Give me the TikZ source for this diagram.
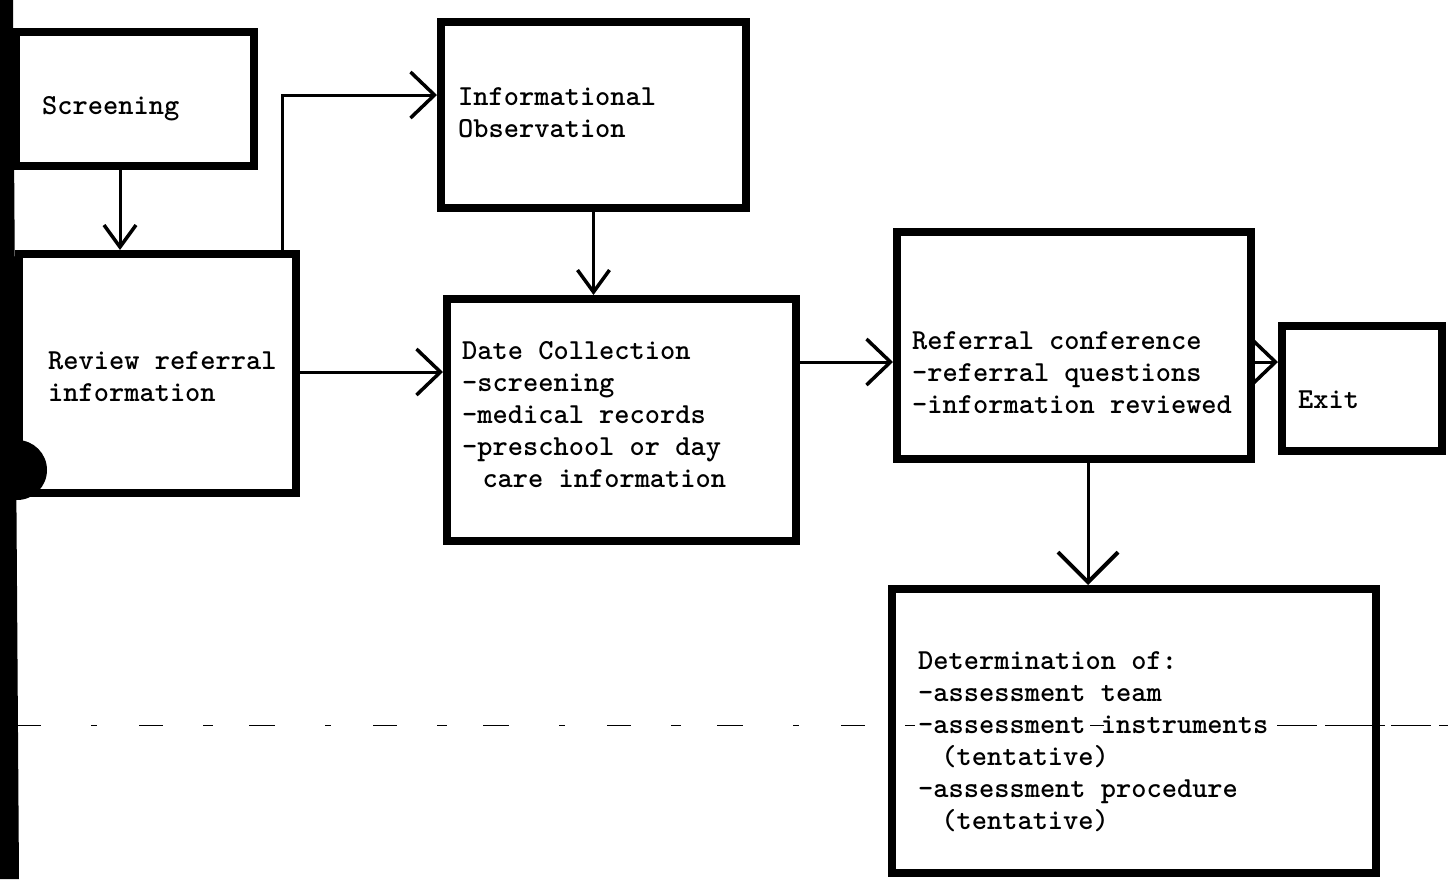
\documentclass[tikz,border=0pt]{standalone}
\usepackage{fontspec}
\usetikzlibrary{arrows.meta}
\begin{document}
\begin{tikzpicture}[x=1pt,y=-1pt,
  box/.style={draw, line width=8pt, rectangle, inner sep=0pt},
  lbl/.style={anchor=north west, inner sep=0pt, align=left,
              font=\ttfamily\bfseries\fontsize{29}{32}\selectfont},
  conn/.style={line width=3pt,
               -{Straight Barb[length=24pt,width=46pt,line width=3.5pt]}},
  conndown/.style={line width=3pt,
               -{Straight Barb[length=22pt,width=32pt,line width=3.5pt]}},
  connbig/.style={line width=3pt,
               -{Straight Barb[length=30pt,width=60pt,line width=4pt]}},
  rule/.style={line width=1pt, dash pattern=on 26pt off 50pt on 6pt off 42pt on 24pt off 40pt on 10pt off 36pt}
]
\useasboundingbox (0,0) rectangle (1448,879);

% left margin bar and punch hole
\fill (0,0) -- (13,0) -- (19,879) -- (0,879) -- cycle;
\fill (17,470) circle (30pt);

% flow boxes
\node[box, minimum width=238pt, minimum height=134pt] (screen)  at (135,99)    {};
\node[box, minimum width=277pt, minimum height=239pt] (review)  at (157.5,373.5) {};
\node[box, minimum width=305pt, minimum height=186pt] (infoobs) at (593.5,115) {};
\node[box, minimum width=349pt, minimum height=242pt] (datacol) at (621.5,420) {};
\node[box, minimum width=354pt, minimum height=227pt] (refconf) at (1074,345.5) {};
\node[box, minimum width=160pt, minimum height=125pt] (exit)    at (1362,388.5) {};
\node[box, minimum width=484pt, minimum height=284pt] (determ)  at (1134,731) {};

% box texts
\node[lbl] (tscreen)  at (42,96)   {Screening};
\node[lbl] (treview)  at (48,351)  {Review referral\\information};
\node[lbl] (tinfoobs) at (458,87)  {Informational\\Observation};
\node[lbl] (tdatacol) at (462,341) {Date Collection\\-screening\\-medical records\\-preschool or day\\\hspace*{0.7em}care information};
\node[lbl] (trefconf) at (912,331) {Referral conference\\-referral questions\\-information reviewed};
\node[lbl] (texit)    at (1298,391) {Exit};
\node[lbl] (tdeterm)  at (918,651) {Determination of:\\-assessment team\\-assessment instruments\\\hspace*{0.8em}(tentative)\\-assessment procedure\\\hspace*{0.8em}(tentative)};

% connectors
\draw[conndown] ([xshift=-15pt]screen.south) -- ([xshift=-15pt]screen.south |- review.north);
\draw[conn] ([xshift=-18pt]review.north east) |- ([yshift=20pt]infoobs.west);
\draw[conn] ([yshift=1.5pt]review.east) -- ([yshift=1.5pt]review.east -| datacol.west);
\draw[conndown] (infoobs.south) -- (infoobs.south |- datacol.north);
\draw[conn] ([yshift=-16.5pt]refconf.west -| datacol.east) -- ([yshift=-16.5pt]refconf.west);
\draw[conn] ([yshift=-16.5pt]refconf.east) -- ([yshift=-16.5pt]refconf.east -| exit.west);
\draw[connbig] ([xshift=14pt]refconf.south) -- ([xshift=14pt]refconf.south |- determ.north);

% faint ruled line across the page
\coordinate (ruleL) at (15,725);
\coordinate (ruleR) at (1448,725);
\draw[rule] (ruleL) -- (ruleL -| tdeterm.west);
\draw[line width=1pt] (1090,725) -- (1104,725);
\draw[line width=1pt, dash pattern=on 40pt off 8pt on 60pt off 6pt] (1277,725) -- (ruleR);
\end{tikzpicture}
\end{document}
